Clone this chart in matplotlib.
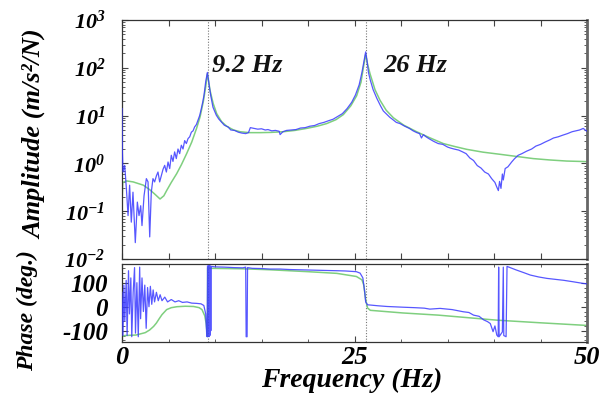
import matplotlib
matplotlib.use("Agg")
import matplotlib.pyplot as plt
from matplotlib.ticker import FixedLocator, MultipleLocator, NullFormatter

plt.rcParams['font.family'] = ['Liberation Serif', 'DejaVu Serif']
plt.rcParams['font.weight'] = 'bold'
plt.rcParams['font.style'] = 'italic'
plt.rcParams['mathtext.fontset'] = 'custom'
plt.rcParams['mathtext.rm'] = 'Liberation Serif:bold:italic'
plt.rcParams['mathtext.it'] = 'Liberation Serif:bold:italic'
plt.rcParams['mathtext.bf'] = 'Liberation Serif:bold:italic'

# ---------------- data ----------------
amp_freq = [0.0, 0.03, 0.11, 0.29, 0.47, 0.65, 0.82, 1.0, 1.18, 1.43, 1.65, 1.83, 2.01, 2.15,
            2.37, 2.62, 2.80, 2.98, 3.15, 3.33, 3.51, 3.70, 3.87, 4.05, 4.23, 4.41, 4.59, 4.77,
            4.95, 5.13, 5.30, 5.48, 5.66, 5.84, 6.02, 6.20, 6.38, 6.56, 6.74, 6.92, 7.10, 7.28,
            7.46, 7.64, 7.81, 8.0, 8.17, 8.35, 8.53, 8.70, 8.82, 9.0, 9.18, 9.32, 9.53, 9.78,
            10.14, 10.4, 10.68, 11.0, 11.4, 11.7, 12.1, 12.5, 12.9, 13.3, 13.6, 13.8, 14.2, 14.6,
            15.0, 15.4, 15.7, 16.1, 16.5, 16.9, 17.0, 17.3, 17.7, 18.2, 18.7, 19.2, 19.7, 20.2,
            20.7, 21.2, 21.7, 22.2, 22.7, 23.2, 23.7, 24.2, 24.7, 25.1, 25.5, 25.8, 26.0, 26.2,
            26.35, 26.5, 26.7, 27.0, 27.4, 27.8, 28.1, 28.5, 28.8, 29.0, 29.5, 29.9, 30.4, 30.9,
            31.3, 31.7, 32.0, 32.2, 32.4, 32.7, 33.0, 33.5, 34.0, 34.5, 35.0, 35.3, 35.7, 36.2,
            36.6, 37.0, 37.4, 37.8, 38.2, 38.6, 39.0, 39.4, 39.75, 40.1, 40.3, 40.47, 40.6, 40.75,
            40.9, 41.0, 41.2, 41.5, 41.9, 42.2, 42.6, 43.0, 43.5, 44.05, 44.5, 45.0, 45.5, 46.0,
            46.4, 46.9, 47.4, 47.9, 48.4, 48.8, 49.2, 49.6, 49.8, 50.0]
amp_meas = [14, 2.0, 0.66, 0.91, 0.30, 0.081, 0.35, 0.059, 0.25, 0.022, 0.155, 0.081, 0.13, 0.05,
            0.21, 0.48, 0.41, 0.029, 0.25, 0.48, 0.41, 0.55, 0.66, 0.41, 0.56, 0.75, 0.91, 0.66,
            1.07, 0.78, 1.48, 1.1, 1.74, 1.26, 2.0, 1.6, 2.4, 2.0, 3.0, 2.6, 3.3, 3.6,
            4.5, 4.8, 5.8, 6.5, 8.0, 10, 14, 20, 27, 51, 80, 51, 27, 15,
            10.2, 8.5, 7.4, 6.3, 5.8, 5.0, 4.9, 4.5, 4.3, 4.2, 4.4, 5.6, 5.4, 5.2,
            5.3, 5.0, 5.1, 4.8, 4.9, 4.7, 4.0, 4.6, 4.9, 5.0, 5.1, 5.5, 5.6, 6.0,
            6.2, 6.8, 7.2, 7.8, 8.4, 9.6, 11, 14, 19, 27, 44, 80, 130, 215,
            140, 80, 55, 35, 23, 16, 12.5, 10.5, 9.2, 8.6, 7.2, 6.8, 6.0, 5.4,
            4.8, 4.4, 4.2, 3.4, 4.0, 3.6, 3.3, 2.9, 2.6, 2.5, 2.2, 2.1, 2.0, 1.9,
            1.75, 1.6, 1.3, 1.15, 0.9, 0.8, 0.66, 0.6, 0.48, 0.40, 0.32, 0.27, 0.42, 0.30,
            0.60, 0.45, 0.78, 0.85, 1.07, 1.25, 1.48, 1.6, 1.8, 2.0, 2.3, 2.5, 2.8, 3.1,
            3.4, 3.6, 3.9, 4.2, 4.6, 4.8, 5.0, 5.4, 5.0, 4.7]

fit_freq = [0.0, 0.08, 0.5, 1.2, 2.3, 3.0, 3.5, 4.09, 4.5, 4.8, 5.3, 5.88, 6.4, 6.95, 7.5, 8.03,
            8.4, 8.75, 9.0, 9.18, 9.3, 9.46, 9.8, 10.18, 10.7, 11.25, 12.0, 12.69, 13.7, 14.84,
            16.0, 17.35, 18.6, 19.86, 21.0, 22.0, 23.0, 23.8, 24.6, 25.23, 25.7, 25.95, 26.2,
            26.4, 26.67, 27.2, 27.74, 28.4, 29.18, 30.3, 31.68, 33.0, 34.55, 35.8, 37.06, 38.8,
            40.65, 42.4, 44.23, 46.0, 47.81, 50.0]
amp_fit = [0.15, 0.40, 0.43, 0.41, 0.35, 0.28, 0.23, 0.18, 0.21, 0.27, 0.40, 0.61, 0.95, 1.6, 2.8, 5.5,
           9.5, 20, 40, 75, 55, 34, 18, 11, 7.5, 6.0, 5.0, 4.6, 4.4, 4.4,
           4.45, 4.6, 4.9, 5.4, 6.0, 6.8, 8.2, 10.5, 16, 26, 50, 100, 190,
           120, 75, 35, 21, 13, 9.0, 6.3, 4.6, 3.5, 2.6, 2.25, 1.97, 1.72,
           1.55, 1.4, 1.26, 1.18, 1.12, 1.09]

ph_freq = [0.0, 0.1, 0.2, 0.3, 0.45, 0.55, 0.7, 0.8, 0.95, 1.05, 1.2, 1.35, 1.45, 1.6, 1.75,
           1.9, 2.0, 2.15, 2.3, 2.45, 2.6, 2.75, 2.9, 3.05, 3.2, 3.35, 3.5, 3.7, 3.9, 4.1, 4.3,
           4.6, 4.9, 5.3, 5.7, 6.1, 6.5, 7.0, 7.5, 8.0, 8.5, 8.8, 9.0, 9.1, 9.15, 9.2, 9.25,
           9.3, 9.35, 9.4, 9.45, 9.5, 9.55, 9.6, 10.0, 11.0, 12.0, 13.0, 13.3, 13.35, 13.45,
           13.5, 14.0, 15.0, 15.9, 17.0, 18.0, 19.0, 20.0, 21.0, 22.0, 23.1, 24.0, 25.2, 25.6,
           25.9, 26.1, 26.2, 26.4, 26.7, 27.5, 28.5, 30.2, 31.5, 32.5, 33.1, 34.2, 35.5, 36.7,
           37.3, 37.8, 38.4, 38.9, 39.3, 39.6, 39.9, 40.1, 40.3, 40.45, 40.5, 40.55, 40.9, 41.0,
           41.05, 41.3, 41.4, 41.6, 42.4, 43.2, 43.9, 44.8, 45.7, 46.6, 47.5, 48.5, 49.6, 50.0]
ph_meas = [60, -120, 90, -60, 110, -120, 150, -30, 120, -125, 60, 163, -110, 100, -125,
           165, -50, 120, -20, 90, -90, 80, 0, 85, 10, 70, 20, 60, 25, 50, 25,
           40, 20, 30, 20, 25, 18, 20, 15, 14, 12, 5, -30, -110, -125, 170, -120,
           170, -125, 172, -120, 170, -100, 168, 166, 165, 163, 162, 165, -125, -125,
           163, 160, 159, 157, 157, 155, 154, 153, 152, 151, 150, 149, 146, 140,
           120, 60, 20, 8, 7, 4, 1, -2, -4, -6, -10, -7, -12, -21,
           -24, -35, -40, -55, -62, -70, -104, -80, -118, -125, 165, -125, -105, 165,
           -120, -125, 168, 165, 153, 142, 132, 124, 118, 114, 110, 104, 97, 95]

phfit_freq = [0.0, 0.3, 1.5, 2.5, 2.97, 3.4, 3.7, 4.0, 4.3, 4.8, 5.3, 5.9, 6.8, 7.7, 8.3, 8.6,
              8.9, 9.05, 9.15, 9.2, 9.21, 9.5, 13.0, 15.9, 20.0, 23.1, 25.2, 25.8, 26.0, 26.2,
              26.4, 26.7, 30.2, 34.0, 37.0, 40.3, 45.0, 50.0]
ph_fit = [-125, -120, -118, -108, -97, -82, -68, -50, -33, -12, -4, 0, 2, 1, -4, -12,
          -38, -70, -110, -125, 162, 160, 158, 154, 146, 139, 126, 112, 90, 30,
          -5, -15, -26, -35, -45, -56, -67, -78]

peak_freqs = [9.2, 26.2]
peak_labels = ['9.2 Hz', '26 Hz']
peak_label_x = [9.7, 28.1]
peak_label_y = [110, 110]

amp_ticks = [1e-2, 1e-1, 1e0, 1e1, 1e2, 1e3]
amp_ticklabels = [r'$10^{-2}$', r'$10^{-1}$', r'$10^{0}$', r'$10^{1}$', r'$10^{2}$', r'$10^{3}$']
ph_ticks = [-100, 0, 100]
ph_ticklabels = ['-100', '0', '100']
freq_ticks = [0, 25, 50]
freq_ticklabels = ['0', '25', '50']

# ---------------- figure ----------------
W, H = 611, 394
fig = plt.figure(figsize=(W / 100, H / 100), dpi=100)

def fx(px):
    return px / W

def fy(py):
    return 1 - py / H

ax1 = fig.add_axes([fx(122), fy(259), fx(587) - fx(122), fy(20) - fy(259)])
ax2 = fig.add_axes([fx(122), fy(342), fx(587) - fx(122), fy(264) - fy(342)])

blue = '#3a3aff'
green = '#7fcf7f'

ax1.plot(fit_freq, amp_fit, color=green, lw=1.1, zorder=2)
ax1.plot(amp_freq, amp_meas, color=blue, lw=0.9, alpha=0.85, zorder=3)
ax1.set_yscale('log')
ax1.set_xlim(0, 50)
ax1.set_ylim(1e-2, 1e3)
ax1.yaxis.set_major_locator(FixedLocator(amp_ticks))
ax1.set_yticklabels(amp_ticklabels)
ax1.yaxis.set_minor_formatter(NullFormatter())
ax1.xaxis.set_major_locator(MultipleLocator(5))
ax1.set_xticklabels([])

ax2.plot(phfit_freq, ph_fit, color=green, lw=1.1, zorder=2)
ax2.plot(ph_freq, ph_meas, color=blue, lw=0.9, alpha=0.85, zorder=3)
ax2.set_xlim(0, 50)
ax2.set_ylim(-147, 178)
ax2.yaxis.set_major_locator(FixedLocator(ph_ticks))
ax2.set_yticklabels(ph_ticklabels)
ax2.yaxis.set_minor_locator(MultipleLocator(20))
ax2.xaxis.set_major_locator(FixedLocator(freq_ticks))
ax2.set_xticklabels(freq_ticklabels)
ax2.xaxis.set_minor_locator(MultipleLocator(5))

for ax in (ax1, ax2):
    for f in peak_freqs:
        ax.axvline(f, color='#777777', lw=0.8, ls=(0, (1, 1.5)), zorder=1)
    ax.tick_params(which='both', direction='in', top=True, right=True, color='#444444')
    ax.tick_params(which='major', length=4)
    ax.tick_params(which='minor', length=2)
    for s in ax.spines.values():
        s.set_color('#333333')
        s.set_linewidth(0.9)
    ax.spines['right'].set_color('#666666')
    ax.spines['right'].set_linewidth(2.0)

ax1.tick_params(axis='y', labelsize=16, pad=12)
ax2.tick_params(axis='y', labelsize=18, pad=10)
ax2.tick_params(axis='x', labelsize=19, pad=3)
for lab in ax1.get_yticklabels() + ax2.get_yticklabels() + ax2.get_xticklabels():
    lab.set_fontweight('bold')
    lab.set_fontstyle('italic')

for lx, ly, txt in zip(peak_label_x, peak_label_y, peak_labels):
    ax1.text(lx, ly, txt, fontsize=19, fontweight='bold', fontstyle='italic',
             ha='left', va='center', color='#111111')

fig.text(fx(35), fy(134), 'Amplitude (m/s²/N)', rotation=90, fontsize=19,
         fontweight='bold', fontstyle='italic', ha='center', va='center')
fig.text(fx(27), fy(311), 'Phase (deg.)', rotation=90, fontsize=17,
         fontweight='bold', fontstyle='italic', ha='center', va='center')
fig.text(fx(352), fy(380), 'Frequency (Hz)', fontsize=20,
         fontweight='bold', fontstyle='italic', ha='center', va='center')

fig.savefig('out.png', dpi=100)
